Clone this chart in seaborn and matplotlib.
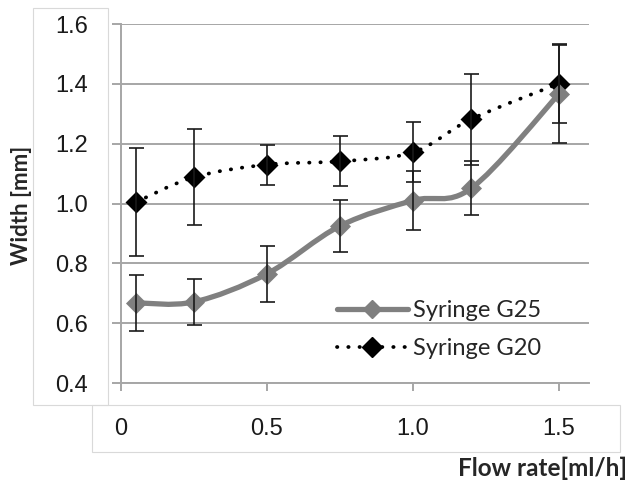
import numpy as np
import matplotlib
matplotlib.use("Agg")
from matplotlib import pyplot as plt
from matplotlib.path import Path
from matplotlib.patches import PathPatch, Rectangle
from matplotlib.lines import Line2D
import seaborn as sns

flow_rate = [0.05, 0.25, 0.5, 0.75, 1.0, 1.2, 1.5]
g25_width = [0.668, 0.671, 0.765, 0.925, 1.010, 1.051, 1.366]
g25_err = [0.093, 0.077, 0.093, 0.088, 0.098, 0.090, 0.165]
g20_width = [1.004, 1.088, 1.130, 1.141, 1.171, 1.282, 1.401]
g20_err = [0.180, 0.160, 0.067, 0.083, 0.100, 0.152, 0.133]
y_ticks = [0.4, 0.6, 0.8, 1.0, 1.2, 1.4, 1.6]
x_ticks = [0, 0.5, 1.0, 1.5]
x_labels = ["0", "0.5", "1.0", "1.5"]

sns.set_style("white")
plt.rcParams['font.family'] = ['Liberation Sans', 'DejaVu Sans']

GRID = '#a6a6a6'
DOTS = (0, (0.1, 2.9))


def smooth_path(xs, ys):
    # excel style smoothed line: cubic bezier through the points
    pts = np.column_stack([xs, ys])
    n = len(pts)
    verts = [pts[0]]
    codes = [Path.MOVETO]
    for i in range(n - 1):
        p0 = pts[i - 1] if i > 0 else pts[i]
        p1 = pts[i]
        p2 = pts[i + 1]
        p3 = pts[i + 2] if i + 2 < n else pts[i + 1]
        verts += [p1 + (p2 - p0) / 6, p2 - (p3 - p1) / 6, p2]
        codes += [Path.CURVE4] * 3
    return Path(verts, codes)


fig = plt.figure(figsize=(6.32, 4.83), dpi=100)
W, H = 632, 483
ax = fig.add_axes([121 / W, 1 - 383 / H, (589 - 121) / W, (383 - 24) / H])

# text box outlines like the original
fig.add_artist(Rectangle((33 / W, 1 - 405 / H), 75 / W, 397 / H, transform=fig.transFigure,
                         fill=False, ec='#d9d9d9', lw=0.8))
fig.add_artist(Rectangle((92 / W, 1 - 452 / H), 528 / W, 47 / H, transform=fig.transFigure,
                         fill=False, ec='#d9d9d9', lw=0.8))

ax.set_xlim(0, 1.603)
ax.set_ylim(0.4, 1.6)
ax.set_yticks(y_ticks)
ax.set_yticklabels([f"{v:.1f}" for v in y_ticks])
ax.set_xticks(x_ticks)
ax.set_xticklabels(x_labels)
ax.grid(axis='y', color=GRID, lw=1.4)
ax.set_axisbelow(True)
for s in ['top', 'right']:
    ax.spines[s].set_visible(False)
for s in ['left', 'bottom']:
    ax.spines[s].set_color(GRID)
    ax.spines[s].set_linewidth(1.4)
ax.tick_params(axis='y', length=6.5, width=1.4, color=GRID, pad=17, labelsize=17, left=True)
ax.tick_params(axis='x', length=6, width=1.4, color=GRID, pad=19, labelsize=17, bottom=True)
for lab in ax.get_yticklabels() + ax.get_xticklabels():
    lab.set_color('#1a1a1a')

# lines
ax.add_patch(PathPatch(smooth_path(flow_rate, g20_width), fill=False, ec='black', lw=2.7,
                       ls=DOTS, capstyle='round', zorder=2))
ax.add_patch(PathPatch(smooth_path(flow_rate, g25_width), fill=False, ec='#808080', lw=3.8,
                       capstyle='round', zorder=3))

sns.scatterplot(x=flow_rate, y=g20_width, marker='D', s=125, color='black',
                edgecolor='black', linewidth=0, ax=ax, zorder=4)
sns.scatterplot(x=flow_rate, y=g25_width, marker='D', s=115, color='#7f7f7f',
                edgecolor='#7f7f7f', linewidth=0, ax=ax, zorder=4)

ax.errorbar(flow_rate, g20_width, yerr=g20_err, fmt='none', ecolor='#1a1a1a',
            elinewidth=1.2, capsize=5.4, capthick=1.2, zorder=5)
ax.errorbar(flow_rate, g25_width, yerr=g25_err, fmt='none', ecolor='#1a1a1a',
            elinewidth=1.2, capsize=5.4, capthick=1.2, zorder=5)

handles = [
    Line2D([], [], color='#808080', lw=3.8, marker='D', ms=9, mfc='#7f7f7f', mec='#7f7f7f'),
    Line2D([], [], color='black', lw=2.7, ls=DOTS, dash_capstyle='round',
           marker='D', ms=10, mfc='black', mec='black'),
]
ax.legend(handles, ["Syringe G25", "Syringe G20"], loc='upper left',
          bbox_to_anchor=(0.4615, 0.23), frameon=False, handlelength=3.0,
          handletextpad=0.2, labelspacing=0.72, borderaxespad=0, borderpad=0,
          prop={'family': 'Lato', 'size': 17})

fig.text(627 / W, 1 - 468 / H, "Flow rate[ml/h]", ha='right', va='center',
         family='Lato', weight='bold', size=17.5)
fig.text(22 / W, 1 - 205 / H, "Width [mm]", ha='center', va='center', rotation=90,
         family='Lato', weight='bold', size=16)

fig.savefig("out.png", dpi=100)
